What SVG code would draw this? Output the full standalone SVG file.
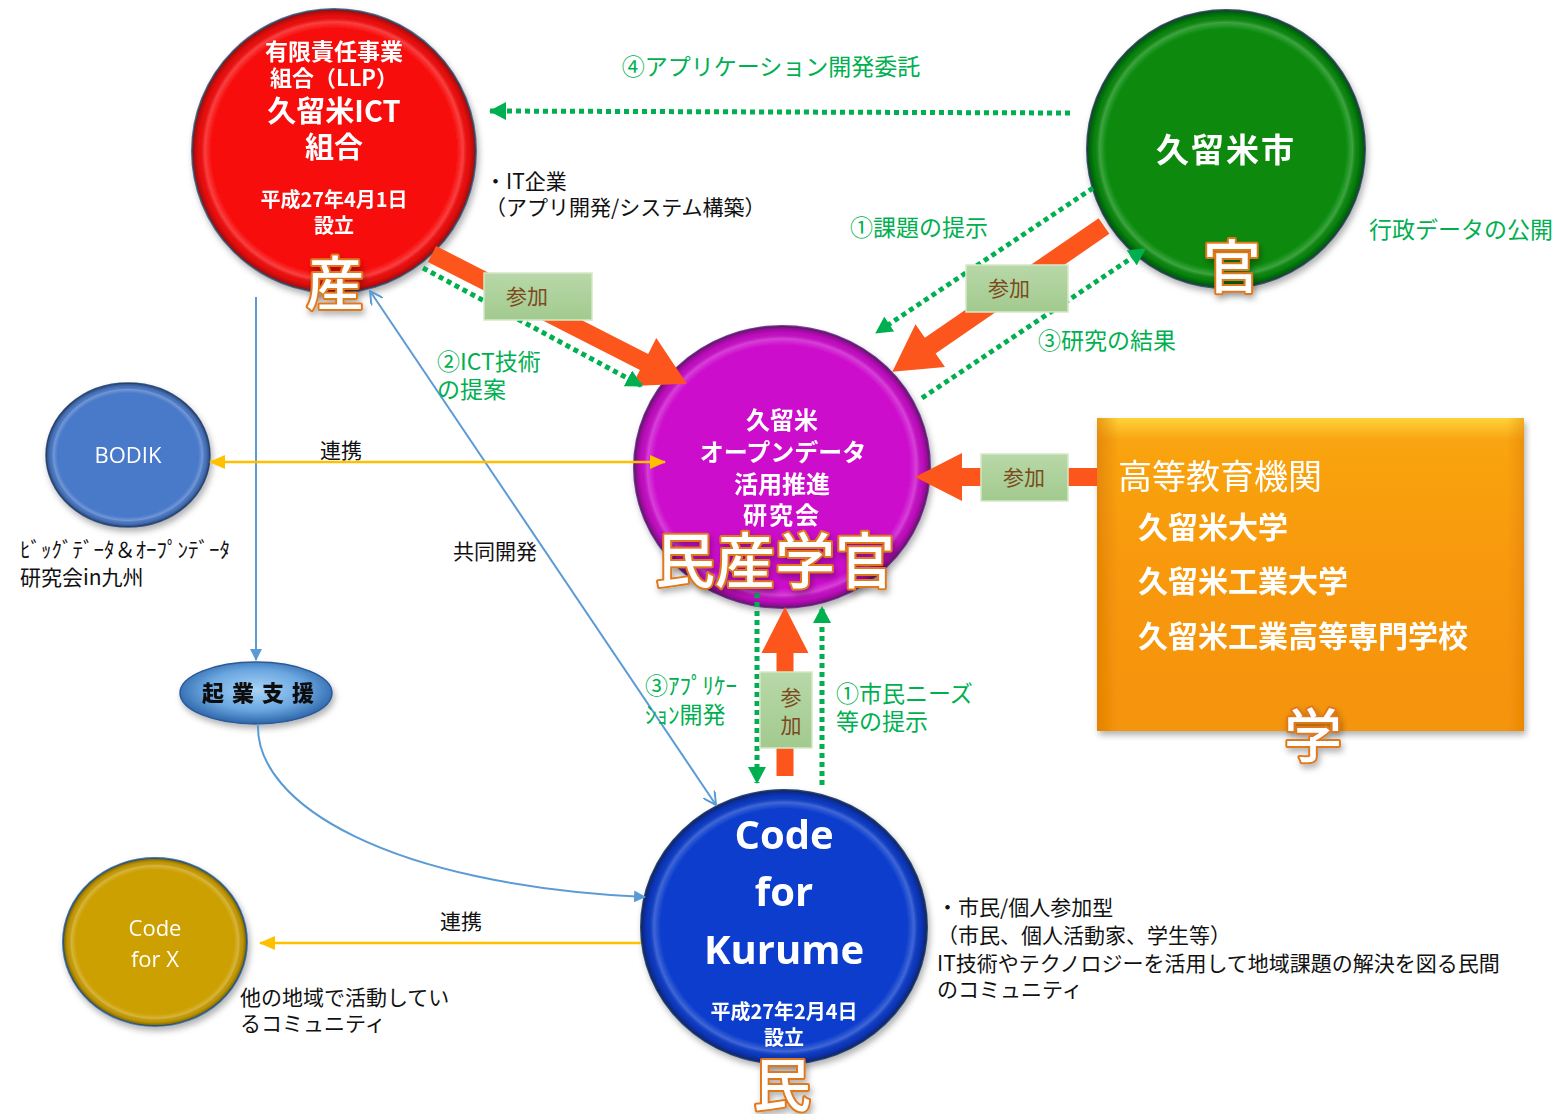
<svg xmlns="http://www.w3.org/2000/svg" width="1560" height="1114" viewBox="0 0 1560 1114">
<style>
text{font-family:"Noto Sans CJK JP","Noto Sans",sans-serif}
.w{fill:#fff;font-weight:700;text-anchor:middle}
.lat{font-family:"Open Sans","Noto Sans",sans-serif}
.g{fill:#00B050;font-size:23px}
.k{fill:#111;font-size:21px}
.big{fill:#fff;stroke:#E0781E;stroke-width:4;paint-order:stroke;stroke-linejoin:round;text-anchor:middle;font-weight:500}
.dot{fill:none;stroke:#00B050;stroke-width:5;stroke-dasharray:5 4}
.blue{fill:none;stroke:#5B9BD5;stroke-width:2}
.yel{fill:none;stroke:#FFC000;stroke-width:2.5}
.fat{fill:#FC561C}
.box{fill:url(#boxg);stroke:#D4E8C6;stroke-width:1.5}
.bt{fill:#7B4A1E;font-size:21px;text-anchor:middle}
.rim{fill:url(#rim)}
</style>
<defs>
<radialGradient id="rim" cx="0.5" cy="0.5" r="0.5">
<stop offset="0" stop-color="#fff" stop-opacity="0"/>
<stop offset="0.86" stop-color="#fff" stop-opacity="0"/>
<stop offset="0.91" stop-color="#fff" stop-opacity="0.22"/>
<stop offset="0.95" stop-color="#000" stop-opacity="0.05"/>
<stop offset="1" stop-color="#000" stop-opacity="0.4"/>
</radialGradient>
<linearGradient id="boxg" x1="0" y1="0" x2="0" y2="1">
<stop offset="0" stop-color="#B8D8A8"/>
<stop offset="1" stop-color="#A2CA8E"/>
</linearGradient>
<linearGradient id="orangeg" x1="0" y1="0" x2="0" y2="1">
<stop offset="0" stop-color="#FFD23A"/>
<stop offset="0.07" stop-color="#F9A412"/>
<stop offset="0.5" stop-color="#F8980A"/>
<stop offset="1" stop-color="#F59408"/>
</linearGradient>
<linearGradient id="orangeL" x1="0" y1="0" x2="1" y2="0">
<stop offset="0" stop-color="#D87800" stop-opacity="0.6"/>
<stop offset="0.05" stop-color="#D87800" stop-opacity="0"/>
<stop offset="0.96" stop-color="#D87800" stop-opacity="0"/>
<stop offset="1" stop-color="#D87800" stop-opacity="0.4"/>
</linearGradient>
<radialGradient id="kigyo" cx="0.5" cy="0.45" r="0.55">
<stop offset="0" stop-color="#A8D4F6"/>
<stop offset="0.6" stop-color="#6AA6E0"/>
<stop offset="1" stop-color="#2C64A8"/>
</radialGradient>
<filter id="sh" x="-20%" y="-20%" width="140%" height="140%">
<feDropShadow dx="2" dy="4" stdDeviation="3" flood-color="#000" flood-opacity="0.3"/>
</filter>
<marker id="gA" viewBox="0 0 17 18" markerWidth="17" markerHeight="18" refX="16" refY="9" orient="auto" markerUnits="userSpaceOnUse">
<path d="M0,0 L17,9 L0,18 z" fill="#00B050"/>
</marker>
<marker id="bA" viewBox="0 0 12 12" markerWidth="12" markerHeight="12" refX="11" refY="6" orient="auto" markerUnits="userSpaceOnUse">
<path d="M0,0 L12,6 L0,12 z" fill="#5B9BD5"/>
</marker>
<marker id="bO" viewBox="0 0 14 14" markerWidth="14" markerHeight="14" refX="13" refY="7" orient="auto-start-reverse" markerUnits="userSpaceOnUse">
<path d="M0,0 L13,7 L0,14" fill="none" stroke="#5B9BD5" stroke-width="2"/>
</marker>
<marker id="yA" viewBox="0 0 16 14" markerWidth="16" markerHeight="14" refX="15" refY="7" orient="auto-start-reverse" markerUnits="userSpaceOnUse">
<path d="M0,0 L16,7 L0,14 z" fill="#FFC000"/>
</marker>
</defs>
<rect width="1560" height="1114" fill="#fff"/>

<g id="node-llp" filter="url(#sh)">
<circle cx="334" cy="151" r="142" fill="#F80A0A" stroke="#5A6A8A" stroke-width="2"/>
<circle class="rim" cx="334" cy="151" r="142"/>
<text class="w" x="334" y="60" font-size="23">有限責任事業</text>
<text class="w" x="334" y="86" font-size="22">組合（LLP）</text>
<text class="w" x="334" y="122" font-size="29">久留米ICT</text>
<text class="w" x="334" y="158" font-size="29">組合</text>
<text class="w" x="334" y="207" font-size="20">平成27年4月1日</text>
<text class="w" x="334" y="233" font-size="20">設立</text>
</g>

<g id="node-city" filter="url(#sh)">
<circle cx="1226" cy="149" r="139" fill="#078A0A" stroke="#3A5A6A" stroke-width="2"/>
<circle class="rim" cx="1226" cy="149" r="139"/>
<text class="w" x="1226" y="162" font-size="33" letter-spacing="2">久留米市</text>
</g>

<g id="node-research" filter="url(#sh)">
<ellipse cx="782" cy="467" rx="148" ry="141" fill="#CC0ACC" stroke="#7A3A9A" stroke-width="2"/>
<ellipse class="rim" cx="782" cy="467" rx="148" ry="141"/>
<text class="w" x="782" y="429" font-size="24">久留米</text>
<text class="w" x="783" y="461" font-size="24">オープンデータ</text>
<text class="w" x="782" y="493" font-size="24">活用推進</text>
<text class="w" x="782" y="524" font-size="24" letter-spacing="2">研究会</text>
</g>

<g id="node-cfk" filter="url(#sh)">
<ellipse cx="784" cy="927" rx="143" ry="137" fill="#0A3CCC" stroke="#2A4A7A" stroke-width="2"/>
<ellipse class="rim" cx="784" cy="927" rx="143" ry="137"/>
<text class="w lat" x="784" y="849" font-size="40">Code</text>
<text class="w lat" x="784" y="906" font-size="40">for</text>
<text class="w lat" x="784" y="964" font-size="40">Kurume</text>
<text class="w" x="784" y="1019" font-size="20">平成27年2月4日</text>
<text class="w" x="784" y="1045" font-size="20">設立</text>
</g>

<g id="node-univ" filter="url(#sh)">
<rect x="1097" y="418" width="427" height="313" fill="url(#orangeg)"/>
<rect x="1097" y="418" width="427" height="313" fill="url(#orangeL)"/>
<text x="1118" y="489" font-size="34" fill="#fff">高等教育機関</text>
<text x="1138" y="538" font-size="30" fill="#fff" font-weight="700">久留米大学</text>
<text x="1138" y="592" font-size="30" fill="#fff" font-weight="700">久留米工業大学</text>
<text x="1138" y="647" font-size="30" fill="#fff" font-weight="700">久留米工業高等専門学校</text>
</g>

<g id="node-bodik" filter="url(#sh)">
<ellipse cx="128" cy="455" rx="82" ry="72" fill="#4A7ACA" stroke="#3A5A8A" stroke-width="1.5"/>
<ellipse class="rim" cx="128" cy="455" rx="82" ry="72"/>
<text class="lat" x="128" y="463" font-size="22" fill="#fff" text-anchor="middle">BODIK</text>
</g>

<g id="node-cfx" filter="url(#sh)">
<ellipse cx="155" cy="942" rx="92" ry="84" fill="#CCA004" stroke="#4A7AAA" stroke-width="2"/>
<ellipse class="rim" cx="155" cy="942" rx="92" ry="84"/>
<text class="lat" x="155" y="936" font-size="22" fill="#fff" text-anchor="middle">Code</text>
<text class="lat" x="155" y="967" font-size="22" fill="#fff" text-anchor="middle">for X</text>
</g>

<g id="node-kigyo" filter="url(#sh)">
<ellipse cx="256" cy="693" rx="76" ry="31" fill="url(#kigyo)" stroke="#2A5A9A" stroke-width="1.5"/>
<text x="262" y="701" font-size="22" font-weight="900" fill="#111" text-anchor="middle" letter-spacing="8">起業支援</text>
</g>

<g id="connectors">
<!-- blue -->
<line class="blue" x1="256" y1="297" x2="256" y2="660" marker-end="url(#bA)"/>
<line class="blue" x1="370" y1="291" x2="716" y2="805" marker-start="url(#bO)" marker-end="url(#bO)"/>
<path class="blue" d="M258,724 C255,805 390,885 645,897" marker-end="url(#bA)"/>
<!-- yellow -->
<line class="yel" x1="210" y1="462" x2="665" y2="462" marker-start="url(#yA)" marker-end="url(#yA)"/>
<line class="yel" x1="641" y1="943" x2="260" y2="943" marker-end="url(#yA)"/>
<!-- orange fat arrows -->
<polygon class="fat" transform="translate(432,254) rotate(27)" points="0,-9 238,-9 238,-27 286,0 238,27 238,9 0,9"/>
<polygon class="fat" transform="translate(1104,226) rotate(145.45)" points="0,-9.5 211,-9.5 211,-26 257,0 211,26 211,9.5 0,9.5"/>
<polygon class="fat" transform="translate(1097,477) rotate(180)" points="0,-9 135,-9 135,-24 182,0 135,24 135,9 0,9"/>
<polygon class="fat" transform="translate(785,776) rotate(-90)" points="0,-8.5 123,-8.5 123,-23.5 169,0 123,23.5 123,8.5 0,8.5"/>
<!-- green dotted -->
<line class="dot" x1="1070" y1="113" x2="490" y2="111" marker-end="url(#gA)"/>
<line class="dot" x1="423" y1="268" x2="642" y2="386" marker-end="url(#gA)"/>
<line class="dot" x1="1093" y1="188" x2="876" y2="333" marker-end="url(#gA)"/>
<line class="dot" x1="922" y1="398" x2="1145" y2="249" marker-end="url(#gA)"/>
<line class="dot" x1="757" y1="593" x2="757" y2="783" marker-end="url(#gA)"/>
<line class="dot" x1="822" y1="785" x2="822" y2="607" marker-end="url(#gA)"/>
</g>

<g id="category-marks">
<text class="big" x="335" y="305" font-size="58" filter="url(#sh)">産</text>
<text class="big" x="1232" y="288" font-size="58" filter="url(#sh)">官</text>
<text class="big" x="775" y="583" font-size="60" filter="url(#sh)">民産学官</text>
<text class="big" x="782" y="1106" font-size="58" filter="url(#sh)">民</text>
<text class="big" x="1313" y="757" font-size="58" filter="url(#sh)">学</text>
</g>

<g id="labels">
<rect class="box" x="484" y="273" width="108" height="47"/>
<text class="bt" x="527" y="304">参加</text>
<rect class="box" x="966" y="265" width="102" height="47"/>
<text class="bt" x="1009" y="296">参加</text>
<rect class="box" x="981" y="454" width="87" height="47"/>
<text class="bt" x="1024" y="485">参加</text>
<rect class="box" x="760" y="672" width="52" height="76"/>
<text class="bt" x="791" y="705">参</text>
<text class="bt" x="791" y="733">加</text>

<text class="g" x="771" y="75" text-anchor="middle">④アプリケーション開発委託</text>
<text class="g" x="1369" y="238">行政データの公開</text>
<text class="g" x="850" y="236">①課題の提示</text>
<text class="g" x="1038" y="349">③研究の結果</text>
<text class="g" x="437" y="370">②ICT技術</text>
<text class="g" x="437" y="398">の提案</text>
<text class="g" x="645" y="694">③ｱﾌﾟﾘｹｰ</text>
<text class="g" x="645" y="723">ｼｮﾝ開発</text>
<text class="g" x="836" y="702">①市民ニーズ</text>
<text class="g" x="836" y="730">等の提示</text>

<text class="k" x="485" y="189" font-size="20">・IT企業</text>
<text class="k" x="485" y="215" font-size="20">（アプリ開発/システム構築）</text>
<text class="k" x="320" y="458" font-size="22">連携</text>
<text class="k" x="440" y="929" font-size="22">連携</text>
<text class="k" x="453" y="559" font-size="22">共同開発</text>
<text class="k" x="20" y="557">ﾋﾞｯｸﾞﾃﾞｰﾀ＆ｵｰﾌﾟﾝﾃﾞｰﾀ</text>
<text class="k" x="20" y="585">研究会in九州</text>
<text class="k" x="240" y="1005">他の地域で活動してい</text>
<text class="k" x="240" y="1031">るコミュニティ</text>
<text class="k" x="937" y="915">・市民/個人参加型</text>
<text class="k" x="937" y="943">（市民、個人活動家、学生等）</text>
<text class="k" x="937" y="971">IT技術やテクノロジーを活用して地域課題の解決を図る民間</text>
<text class="k" x="937" y="997">のコミュニティ</text>
</g>
</svg>
